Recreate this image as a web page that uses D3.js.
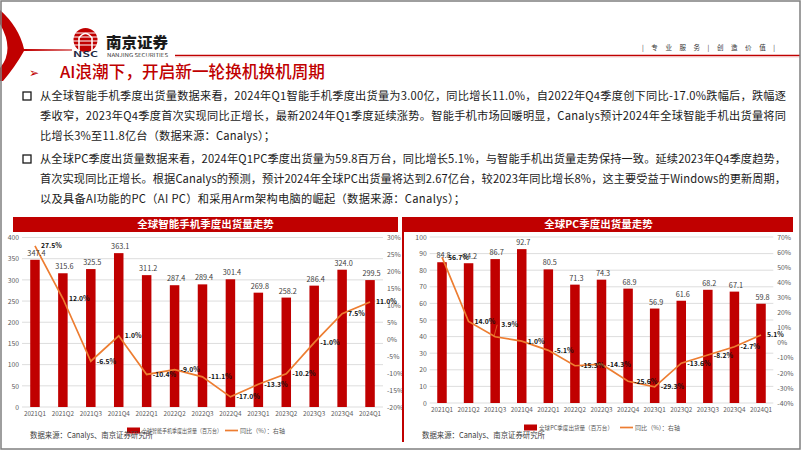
<!DOCTYPE html>
<html><head><meta charset="utf-8">
<script src="https://cdn.jsdelivr.net/npm/d3@7"></script>
<style>
body{margin:0;background:#fff}
svg{display:block}
text{font-family:"Noto Sans CJK SC","Liberation Sans",sans-serif}
</style>
</head><body>
<svg id="c" width="802" height="451"></svg>
<script>
const quarters = ["2021Q1","2021Q2","2021Q3","2021Q4","2022Q1","2022Q2","2022Q3","2022Q4","2023Q1","2023Q2","2023Q3","2023Q4","2024Q1"];
const phoneShipments = [347.4,315.6,325.5,363.1,311.2,287.4,289.4,301.4,269.8,258.2,286.4,324.0,299.5];
const phoneYoY = [27.5,12.0,-6.5,1.0,-10.4,-9.0,-11.1,-17.0,-13.3,-10.2,-1.0,7.5,11.0];
const pcShipments = [84.8,84.2,86.7,92.7,80.5,71.3,74.3,68.9,56.9,61.6,68.2,67.1,59.8];
const pcYoY = [56.7,14.0,3.9,1.0,-5.1,-15.3,-14.3,-25.6,-29.3,-13.6,-8.2,-2.7,5.1];
const phoneLeftTicks = [0,50,100,150,200,250,300,350,400];
const phoneRightTicks = [-20,-15,-10,-5,0,5,10,15,20,25,30];
const pcLeftTicks = [0,10,20,30,40,50,60,70,80,90,100];
const pcRightTicks = [-40,-30,-20,-10,0,10,20,30,40,50,60,70];
const phoneTitle = "全球智能手机季度出货量走势";
const pcTitle = "全球PC季度出货量走势";
const phoneBarLegend = "全球智能手机季度出货量（百万台）";
const pcBarLegend = "全球PC季度出货量（百万台）";
const lineLegend = "同比（%）：右轴";
const sourceText = "数据来源：Canalys、南京证券研究所";
const sectionTitle = "AI浪潮下，开启新一轮换机换机周期";
const bodyLines = [
  "从全球智能手机季度出货量数据来看，2024年Q1智能手机季度出货量为3.00亿，同比增长11.0%，自2022年Q4季度创下同比-17.0%跌幅后，跌幅逐",
  "季收窄，2023年Q4季度首次实现同比正增长，最新2024年Q1季度延续涨势。智能手机市场回暖明显，Canalys预计2024年全球智能手机出货量将同",
  "比增长3%至11.8亿台（数据来源：Canalys）；",
  "从全球PC季度出货量数据来看，2024年Q1PC季度出货量为59.8百万台，同比增长5.1%，与智能手机出货量走势保持一致。延续2023年Q4季度趋势，",
  "首次实现同比正增长。根据Canalys的预测，预计2024年全球PC出货量将达到2.67亿台，较2023年同比增长8%，这主要受益于Windows的更新周期，",
  "以及具备AI功能的PC（AI PC）和采用Arm架构电脑的崛起（数据来源：Canalys）；"
];
const headerSlogan = "| 专 业 服 务 | 创 造 价 值 |";

const RED = "#C00000", ORANGE = "#ED7D31";
const svg = d3.select("#c");

// ---- header ----
svg.append("path")
  .attr("d","M0,10 Q19,27 24,49 L72,49.6 L72,50.6 L24,51 Q15,67 3,81 L0,81 L0,68 Q15,50 0,24 Z")
  .attr("fill", RED);
const logo = svg.append("g");
logo.append("circle").attr("cx",85.5).attr("cy",40).attr("r",12).attr("fill",RED);
[33,37,41,45].forEach(yy=>logo.append("line").attr("x1",73).attr("x2",98).attr("y1",yy).attr("y2",yy).attr("stroke","#fff").attr("stroke-width",1));
logo.append("path").attr("d","M79,52 L79,38 Q85.5,29 92,38 L92,52").attr("fill","none").attr("stroke","#fff").attr("stroke-width",1.6);
logo.append("text").attr("x",73).attr("y",57).attr("font-size",7).attr("font-weight",700)
  .attr("font-family","Liberation Sans").attr("fill","#1f2a44").attr("textLength",25).attr("lengthAdjust","spacingAndGlyphs").text("NSC");
svg.append("text").attr("x",106).attr("y",48).attr("font-size",15).attr("font-weight",900)
  .attr("fill","#1a1a1a").attr("textLength",62).attr("lengthAdjust","spacingAndGlyphs").text("南京证券");
svg.append("text").attr("x",107).attr("y",57).attr("font-size",4.5)
  .attr("font-family","Liberation Serif").attr("fill","#333").attr("textLength",61).attr("lengthAdjust","spacingAndGlyphs").text("NANJING SECURITIES");
svg.append("line").attr("x1",175).attr("x2",800).attr("y1",55.5).attr("y2",55.5).attr("stroke",RED).attr("stroke-width",1.6);
svg.append("line").attr("x1",175).attr("x2",800).attr("y1",57).attr("y2",57).attr("stroke","#f2c4c4").attr("stroke-width",0.8);
svg.append("text").attr("x",642).attr("y",49.5).attr("font-size",6.5).attr("fill","#333")
  .attr("textLength",133).attr("lengthAdjust","spacing").text(headerSlogan);

// section title
svg.append("text").attr("x",29).attr("y",77).attr("font-size",12).attr("font-family","DejaVu Sans").attr("fill",RED).text("➢");
svg.append("text").attr("x",60).attr("y",78).attr("font-size",16.5).attr("font-weight",500).attr("fill",RED)
  .attr("textLength",265).attr("lengthAdjust","spacingAndGlyphs").text(sectionTitle);

// body
const lineCenters = [96,116,136,159,179,199];
const lineEnds = [786,786,275,786,786,465];
bodyLines.forEach((t,i)=>{
  svg.append("text").attr("x",40).attr("y",lineCenters[i]+4.2).attr("font-size",11.2).attr("fill","#1a1a1a")
    .attr("textLength",lineEnds[i]-40).attr("lengthAdjust","spacing").text(t);
});
[0,3].forEach(i=>{
  svg.append("rect").attr("x",23).attr("y",lineCenters[i]-4).attr("width",8).attr("height",8)
    .attr("fill","none").attr("stroke","#1a1a1a").attr("stroke-width",1.3);
});

// ---- charts ----
function drawChart(o){
  const g = svg.append("g");
  const x = d3.scaleBand().domain(quarters).range(o.xr);
  const yL = d3.scaleLinear().domain(o.lDom).range(o.yr);
  const yR = d3.scaleLinear().domain(o.rDom).range(o.yr);
  const cx = d => x(d) + x.bandwidth()/2;

  g.append("rect").attr("x",o.tb[0]).attr("y",217).attr("width",o.tb[1]-o.tb[0]).attr("height",15).attr("fill",RED);
  g.append("text").attr("x",(o.tb[0]+o.tb[1])/2).attr("y",228.3).attr("text-anchor","middle")
    .attr("fill","#fff").attr("font-size",10.5).attr("font-weight",700).text(o.title);

  g.append("g").selectAll("line").data(o.lTicks).join("line")
    .attr("x1",o.xr[0]+1).attr("x2",o.xr[1]-1).attr("y1",d=>yL(d)).attr("y2",d=>yL(d))
    .attr("stroke","#d9d9d9").attr("stroke-width",0.9);

  const styleAxis = s => { s.select(".domain").remove();
    s.selectAll("text").attr("font-size",6.8).attr("fill","#595959").attr("font-family","Liberation Sans"); };
  g.append("g").attr("transform",`translate(${o.xr[0]+1},0)`)
    .call(d3.axisLeft(yL).tickValues(o.lTicks).tickSize(0).tickPadding(3)).call(styleAxis);
  g.append("g").attr("transform",`translate(${o.xr[1]},0)`)
    .call(d3.axisRight(yR).tickValues(o.rTicks).tickSize(0).tickPadding(3).tickFormat(d=>d+"%")).call(styleAxis);
  g.append("g").attr("transform",`translate(0,${o.yr[0]})`)
    .call(d3.axisBottom(x).tickSize(0).tickPadding(5)).call(styleAxis)
    .call(s=>s.selectAll("text").attr("font-size",6.3));

  const bw = 9.5;
  g.append("g").selectAll("rect").data(o.bars).join("rect")
    .attr("x",(d,i)=>cx(quarters[i])-bw/2).attr("width",bw)
    .attr("y",d=>yL(d)).attr("height",d=>o.yr[0]-yL(d)).attr("fill",RED);

  const line = d3.line().x((d,i)=>cx(quarters[i])).y(d=>yR(d));
  g.append("path").datum(o.yoy).attr("d",line).attr("fill","none").attr("stroke",ORANGE).attr("stroke-width",1.7);

  g.append("g").selectAll("text").data(o.bars).join("text")
    .attr("x",(d,i)=>cx(quarters[i])+1.5).attr("y",d=>yL(d)-4).attr("text-anchor","middle")
    .attr("font-size",7.3).attr("font-family","Liberation Sans").attr("fill","#404040").text(d=>d.toFixed(1));

  g.append("g").selectAll("text").data(o.yoy).join("text")
    .attr("x",(d,i)=>cx(quarters[i])+6).attr("y",(d,i)=>yR(d)+2.5+(o.lift[i]||0))
    .attr("font-size",6.8).attr("font-weight",700).attr("font-family","Liberation Sans").attr("fill","#111")
    .text(d=>d.toFixed(1)+"%");
  o.yoy.forEach((d,i)=>{ if(o.lift[i]) g.append("line").attr("x1",cx(quarters[i])-1).attr("y1",yR(d)-1)
      .attr("x2",cx(quarters[i])+2).attr("y2",yR(d)+o.lift[i]).attr("stroke",ORANGE).attr("stroke-width",0.7); });

  // legend
  const lg = o.leg;
  g.append("rect").attr("x",lg.rx).attr("y",lg.y-3).attr("width",13).attr("height",6).attr("fill",RED);
  g.append("text").attr("x",lg.rx+15).attr("y",lg.y+2).attr("font-size",6).attr("fill","#595959")
    .attr("textLength",lg.t1).attr("lengthAdjust","spacingAndGlyphs").text(o.barLegend);
  g.append("line").attr("x1",lg.lx).attr("x2",lg.lx+13).attr("y1",lg.y).attr("y2",lg.y).attr("stroke",ORANGE).attr("stroke-width",1.7);
  g.append("text").attr("x",lg.lx+15).attr("y",lg.y+2).attr("font-size",6).attr("fill","#595959")
    .attr("textLength",45).attr("lengthAdjust","spacingAndGlyphs").text(lineLegend);
  g.append("text").attr("x",o.srcX).attr("y",438).attr("font-size",8.2).attr("fill","#404040")
    .attr("textLength",123).attr("lengthAdjust","spacingAndGlyphs").text(sourceText);
}

drawChart({xr:[21,384], yr:[407,237.5], lDom:[0,400], rDom:[-20,30], lTicks:phoneLeftTicks, rTicks:phoneRightTicks,
  tb:[13,398], title:phoneTitle, bars:phoneShipments, yoy:phoneYoY, lift:{},
  leg:{rx:127, y:430.5, t1:80, lx:225}, barLegend:phoneBarLegend, srcX:30});
drawChart({xr:[428.7,774.3], yr:[403,237], lDom:[0,100], rDom:[-40,70], lTicks:pcLeftTicks, rTicks:pcRightTicks,
  tb:[404,793], title:pcTitle, bars:pcShipments, yoy:pcYoY, lift:{2:-12},
  leg:{rx:524, y:427.5, t1:74, lx:620}, barLegend:pcBarLegend, srcX:422});

svg.append("line").attr("x1",403).attr("x2",403).attr("y1",217).attr("y2",442).attr("stroke",RED).attr("stroke-width",2);
svg.append("rect").attr("x",1).attr("y",1).attr("width",799).attr("height",448).attr("fill","none").attr("stroke","#7f7f7f").attr("stroke-width",1.5);
</script>
</body></html>
